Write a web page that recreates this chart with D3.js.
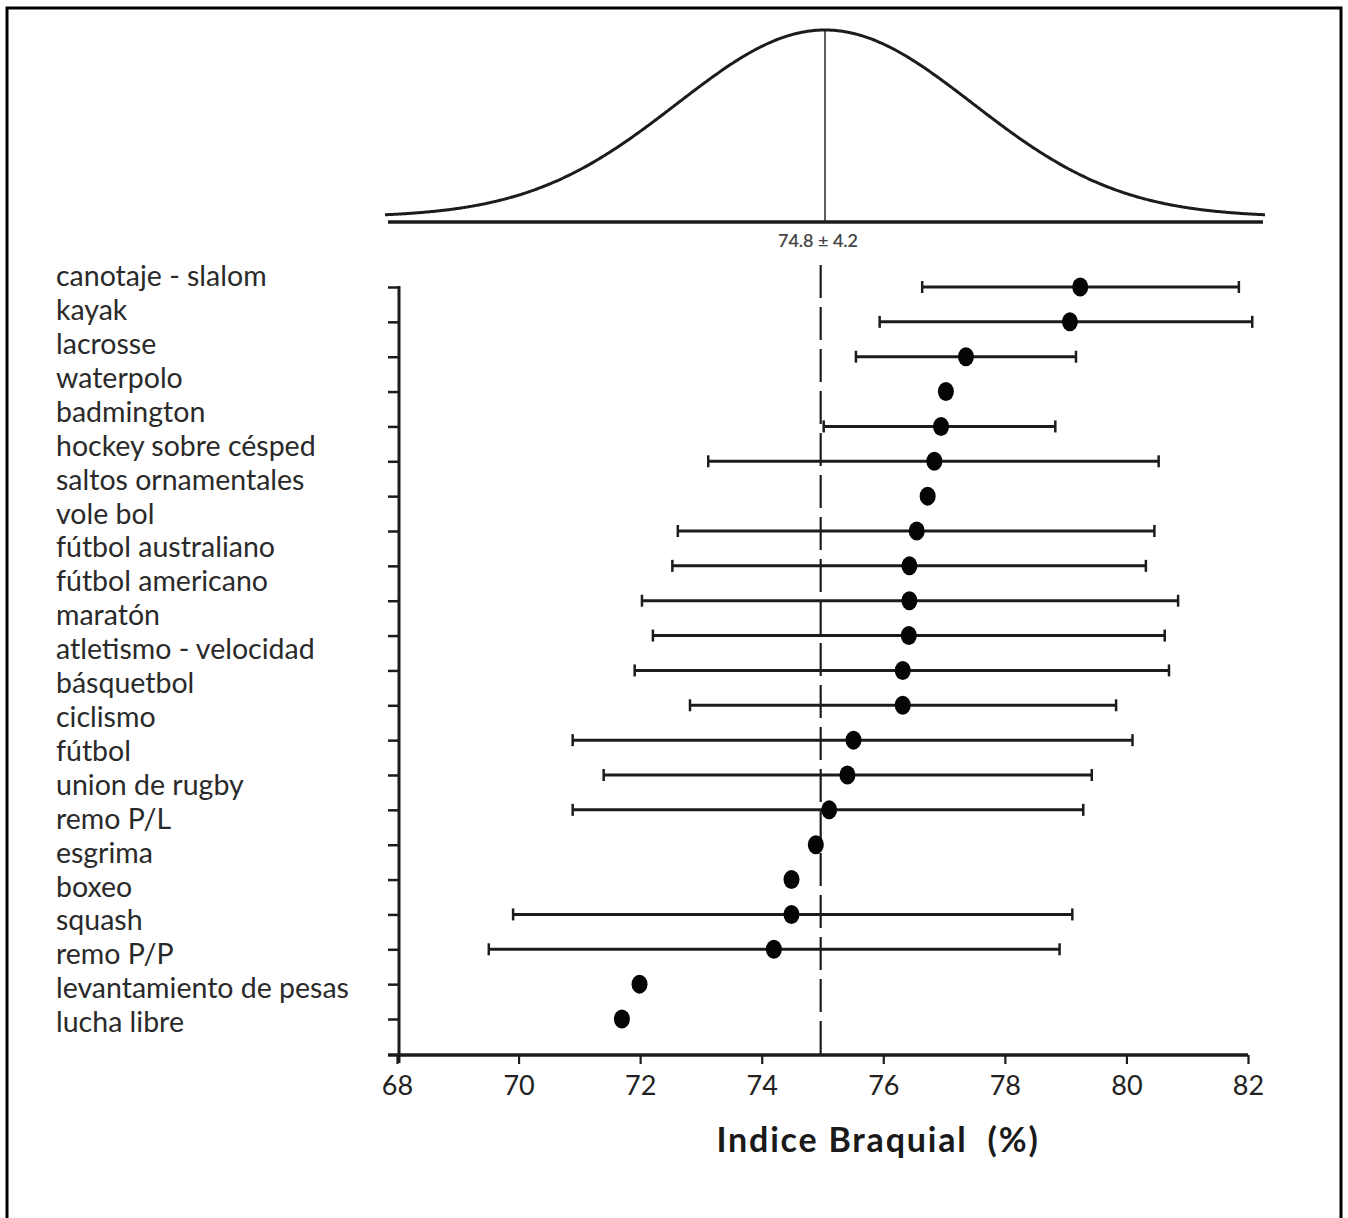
<!DOCTYPE html>
<html><head><meta charset="utf-8">
<script src="https://cdn.jsdelivr.net/npm/d3@7"></script>
<style>
body{margin:0;background:#fff}
svg{display:block}
text{font-family:Lato,"Open Sans",sans-serif}
</style>
</head><body>
<svg id="c" width="1348" height="1218"></svg>
<script>
// ---- data ----
const sports = ["canotaje - slalom","kayak","lacrosse","waterpolo","badmington","hockey sobre césped","saltos ornamentales","vole bol","fútbol australiano","fútbol americano","maratón","atletismo - velocidad","básquetbol","ciclismo","fútbol","union de rugby","remo P/L","esgrima","boxeo","squash","remo P/P","levantamiento de pesas","lucha libre"];
const rows  = d3.range(1, 23).map(String); // 22 plotted rows (y-axis ticks)
const means = [79.24,79.07,77.36,77.03,76.95,76.84,76.73,76.55,76.43,76.43,76.42,76.32,76.32,75.51,75.41,75.11,74.89,74.49,74.49,74.20,71.99,71.70];
const lows  = [76.64,75.94,75.55,null,75.02,73.12,null,72.62,72.53,72.03,72.21,71.91,72.82,70.89,71.40,70.89,null,null,69.91,69.51,null,null];
const highs = [81.85,82.07,79.17,null,78.83,80.53,null,80.46,80.32,80.85,80.63,80.70,79.83,80.10,79.43,79.29,null,null,79.11,78.90,null,null];
const xTicks = [68,70,72,74,76,78,80,82];
const refMean = 74.8, refSD = 4.2;
const refLineValue = 74.97;
const refLabel = "74.8 ± 4.2";
const axisTitle = "Indice Braquial  (%)";

const svg = d3.select("#c");
const ink = "#1c1c1c";

// frame (open at the bottom)
svg.append("path").attr("d", d3.line()([[7,1230],[7,8],[1341,8],[1341,1230]]))
  .attr("fill","none").attr("stroke","#000").attr("stroke-width",3);

// ---- scales ----
const x = d3.scaleLinear().domain([68,82]).range([397,1248]);
const yRow = d3.scalePoint().domain(rows).range([287,1019]);
const yLab = d3.scalePoint().domain(sports).range([279,1025]);
const axisY = 1055;

// ---- top normal curve ----
const xTop = d3.scaleLinear().domain([62.3,87.3]).range([385,1265]);
const pdf = v => Math.exp(-0.5*((v-refMean)/refSD)**2)/(refSD*Math.sqrt(2*Math.PI));
const yTop = d3.scaleLinear().domain([0,pdf(refMean)]).range([217,30]);
const curvePts = d3.range(0,401).map(i => { const v = xTop.domain()[0] + i*(xTop.domain()[1]-xTop.domain()[0])/400; return [v,pdf(v)]; });
svg.append("path").datum(curvePts)
  .attr("d", d3.line().x(d=>xTop(d[0])).y(d=>yTop(d[1])).curve(d3.curveBasis))
  .attr("fill","none").attr("stroke",ink).attr("stroke-width",3);
svg.append("line").attr("x1",xTop(refMean)).attr("x2",xTop(refMean))
  .attr("y1",yTop(pdf(refMean))).attr("y2",222)
  .attr("stroke",ink).attr("stroke-width",1.4);
svg.append("line").attr("x1",388).attr("x2",1263).attr("y1",222).attr("y2",222)
  .attr("stroke",ink).attr("stroke-width",3.5);
svg.append("text").attr("x",818).attr("y",242).attr("text-anchor","middle")
  .attr("dominant-baseline","middle").attr("font-size",18).attr("font-weight",600)
  .attr("fill","#444").text(refLabel);

// ---- dashed reference line ----
svg.append("line").attr("x1",x(refLineValue)).attr("x2",x(refLineValue))
  .attr("y1",265).attr("y2",axisY)
  .attr("stroke",ink).attr("stroke-width",2.2).attr("stroke-dasharray","33,9");

// ---- axes ----
const gx = svg.append("g").attr("transform",`translate(0,${axisY})`)
  .call(d3.axisBottom(x).tickValues(xTicks).tickSize(9).tickSizeOuter(0).tickPadding(12));
gx.select(".domain").attr("stroke",ink).attr("stroke-width",3.5).attr("d","M388,0H1248");
gx.selectAll(".tick line").attr("stroke",ink).attr("stroke-width",2.2);
gx.selectAll(".tick text").attr("font-size",27).attr("fill","#222").attr("font-family","Lato,sans-serif");

const gy = svg.append("g").attr("transform","translate(399,0)")
  .call(d3.axisLeft(yRow).tickSize(11).tickSizeOuter(0).tickFormat(""));
gy.select(".domain").attr("stroke",ink).attr("stroke-width",3).attr("d",`M0,${yRow(rows[0])-1}V${axisY+8}`);
gy.selectAll(".tick line").attr("stroke",ink).attr("stroke-width",2.5);

// category labels
svg.append("g").selectAll("text").data(sports).join("text")
  .attr("x",56).attr("y",d=>yLab(d)).attr("dominant-baseline","middle")
  .attr("font-size",28.5).attr("fill","#2a2a2a").text(d=>d);

// axis title
svg.append("text").attr("x",878).attr("y",1143).attr("text-anchor","middle")
  .attr("dominant-baseline","middle").attr("font-size",34).attr("font-weight",700)
  .attr("letter-spacing",1.8)
  .attr("fill","#1a1a1a").attr("xml:space","preserve").style("white-space","pre").text(axisTitle);

// ---- error bars and points ----
const data = rows.map((r,i)=>({r, m:means[i], lo:lows[i], hi:highs[i]}));
const bars = data.filter(d=>d.lo!=null);
const g = svg.append("g");
g.selectAll(".bar").data(bars).join("line")
  .attr("x1",d=>x(d.lo)).attr("x2",d=>x(d.hi))
  .attr("y1",d=>yRow(d.r)).attr("y2",d=>yRow(d.r))
  .attr("stroke",ink).attr("stroke-width",3);
g.selectAll(".capL").data(bars).join("line")
  .attr("x1",d=>x(d.lo)).attr("x2",d=>x(d.lo))
  .attr("y1",d=>yRow(d.r)-6).attr("y2",d=>yRow(d.r)+6)
  .attr("stroke",ink).attr("stroke-width",2.5);
g.selectAll(".capH").data(bars).join("line")
  .attr("x1",d=>x(d.hi)).attr("x2",d=>x(d.hi))
  .attr("y1",d=>yRow(d.r)-6).attr("y2",d=>yRow(d.r)+6)
  .attr("stroke",ink).attr("stroke-width",2.5);
g.selectAll("ellipse").data(data).join("ellipse")
  .attr("cx",d=>x(d.m)).attr("cy",d=>yRow(d.r)).attr("rx",8).attr("ry",9.5)
  .attr("fill","#050505");
</script>
</body></html>
